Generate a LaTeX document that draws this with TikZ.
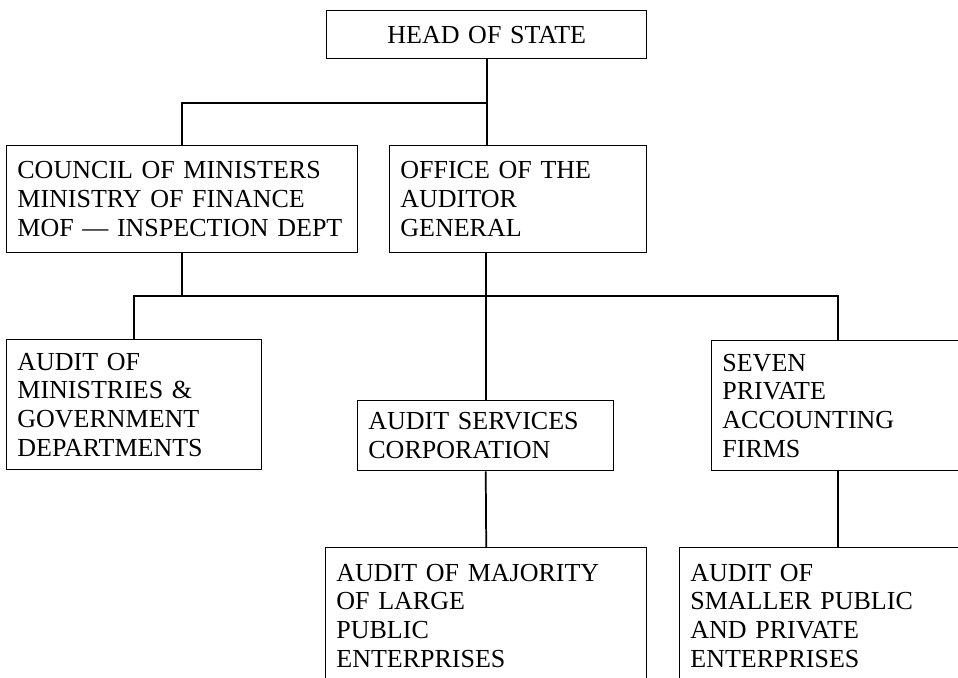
\documentclass[tikz,border=0pt]{standalone}
\usepackage{fontspec}
\setmainfont{Liberation Serif}
\usetikzlibrary{positioning,calc}

\tikzset{
  unit/.style={draw, line width=1.1pt, anchor=north west, align=left, inner xsep=8pt, inner ysep=0pt,
    font=\fontsize{19.5pt}{21.6pt}\selectfont},
  link/.style={line width=1.3pt},
}

\begin{document}
\begin{tikzpicture}[x=0.75pt,y=0.75pt,yscale=-1,xscale=1]
\useasboundingbox (0,0) rectangle (958,678);
\clip (0,0) rectangle (958,678);
%Shape: Rectangle [id:hos]
\node[unit, align=center, text width=224pt, minimum height=36pt] (hos) at (326,10) {HEAD OF STATE};
%Shape: Rectangle [id:council]
\node[unit, text width=247pt, minimum height=80.25pt] (council) at (6,145) {COUNCIL OF MINISTERS\\MINISTRY OF FINANCE\\MOF — INSPECTION DEPT};
%Shape: Rectangle [id:office]
\node[unit, text width=176.75pt, minimum height=80.25pt] (office) at (389,145) {OFFICE OF THE\\AUDITOR\\GENERAL};
%Shape: Rectangle [id:ministries]
\node[unit, text width=175.25pt, minimum height=97.5pt] (ministries) at (6,339) {AUDIT OF\\MINISTRIES \&\\GOVERNMENT\\DEPARTMENTS};
%Shape: Rectangle [id:services]
\node[unit, text width=176pt, minimum height=52.5pt] (services) at (357,400) {AUDIT SERVICES\\CORPORATION};
%Shape: Rectangle [id:seven]
\node[unit, text width=173pt, minimum height=97.5pt] (seven) at (711,340) {SEVEN\\PRIVATE\\ACCOUNTING\\FIRMS};
%Shape: Rectangle [id:majority]
\node[unit, text width=224.75pt, minimum height=102pt] (majority) at (325,547) {AUDIT OF MAJORITY\\OF LARGE\\PUBLIC\\ENTERPRISES};
%Shape: Rectangle [id:smaller]
\node[unit, text width=224.75pt, minimum height=102pt] (smaller) at (679,547) {AUDIT OF\\SMALLER PUBLIC\\AND PRIVATE\\ENTERPRISES};
% bus lines
\coordinate (topbus) at (0,103);
\coordinate (bus) at (0,296);
%Straight Lines
\draw[link] (hos.south) -- (hos.south |- office.north);
\draw[link] (council.north) |- (topbus -| hos.south);
\draw[link] (council.south) -- (council.south |- bus);
\draw[link] (ministries.north) |- (bus -| seven.north) -- (seven.north);
\draw[link] (office.south -| services.north) -- (services.north);
\draw[link] (services.south) -- (majority.north);
\draw[link] (seven.south) -- (seven.south |- smaller.north);
\end{tikzpicture}
\end{document}
